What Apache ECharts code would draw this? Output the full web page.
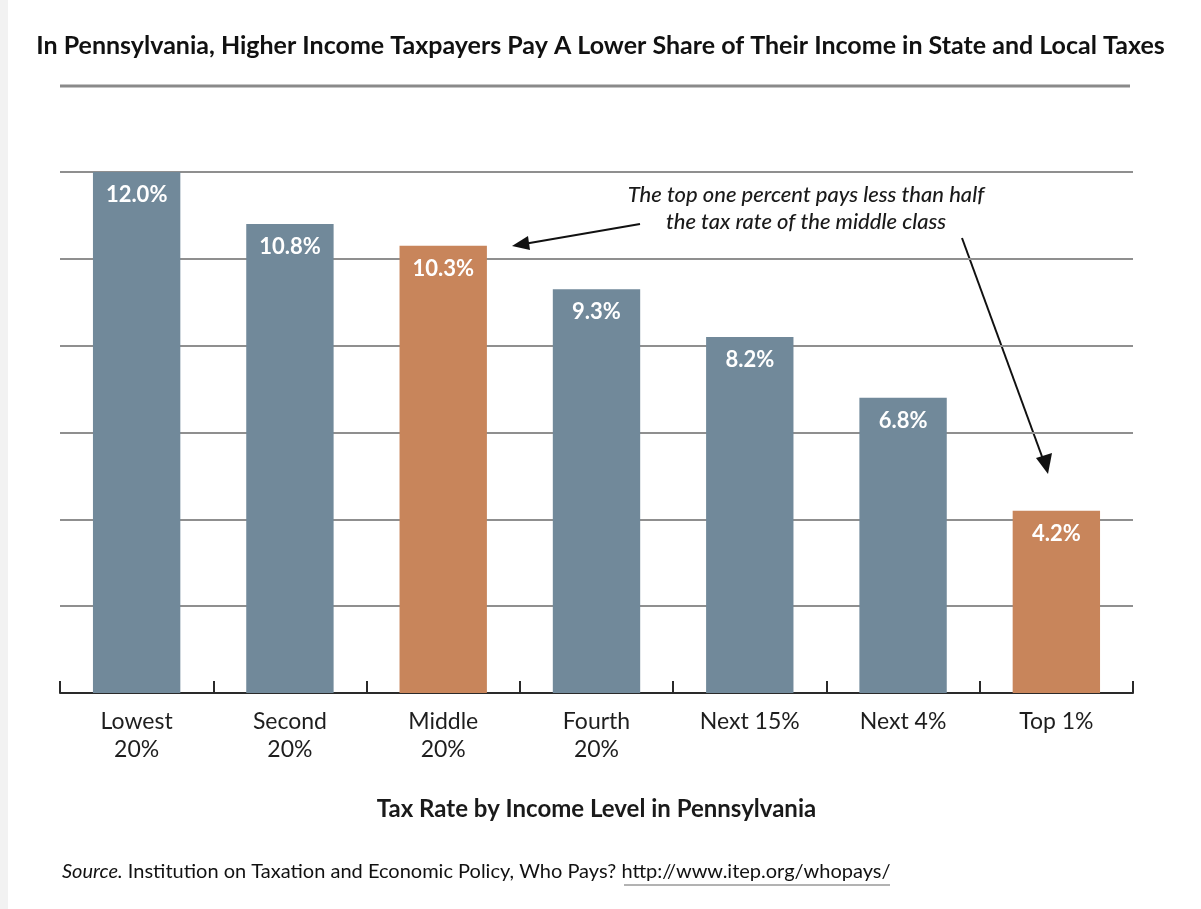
<!DOCTYPE html>
<html>
<head>
<meta charset="utf-8">
<script src="https://cdn.jsdelivr.net/npm/echarts@6/dist/echarts.min.js"></script>
<style>
html,body{margin:0;padding:0;background:#fff;}
#chart{width:1201px;height:909px;}
</style>
</head>
<body>
<div id="chart"></div>
<script>
var categories = ['Lowest\n20%', 'Second\n20%', 'Middle\n20%', 'Fourth\n20%', 'Next 15%', 'Next 4%', 'Top 1%'];
var taxRates = [12.0, 10.8, 10.3, 9.3, 8.2, 6.8, 4.2];
var highlighted = [false, false, true, false, false, false, true];
var yTicks = [0, 2, 4, 6, 8, 10, 12];

var BLUE = '#71899a';
var ORANGE = '#c8855b';
var FONT = 'Lato';

var chart = echarts.init(document.getElementById('chart'));

var barData = taxRates.map(function (v, i) {
  return { value: v, itemStyle: { color: highlighted[i] ? ORANGE : BLUE } };
});

var option = {
  backgroundColor: '#ffffff',
  animation: false,
  textStyle: { fontFamily: FONT },
  grid: { left: 60, right: 68, top: 172, bottom: 216 },
  xAxis: {
    type: 'category',
    data: categories,
    axisLine: { show: true, lineStyle: { color: '#2a2a2a', width: 2 } },
    axisTick: { show: true, inside: true, length: 12, lineStyle: { color: '#2a2a2a', width: 2 } },
    axisLabel: { color: '#1e1e1e', fontSize: 23, fontFamily: FONT, margin: 15, lineHeight: 28 },
    name: 'Tax Rate by Income Level in Pennsylvania',
    nameLocation: 'middle',
    nameGap: 104,
    nameTextStyle: { color: '#1a1a1a', fontSize: 24, fontWeight: 'bold', fontFamily: FONT }
  },
  yAxis: {
    type: 'value',
    min: yTicks[0],
    max: yTicks[yTicks.length - 1],
    interval: yTicks[1] - yTicks[0],
    axisLine: { show: false },
    axisTick: { show: false },
    axisLabel: { show: false },
    splitLine: { show: true, lineStyle: { color: '#8f8f8f', width: 2 } }
  },
  series: [{
    type: 'bar',
    data: barData,
    barWidth: '57%',
    label: {
      show: true,
      position: 'insideTop',
      distance: 12,
      color: '#ffffff',
      fontSize: 22,
      fontWeight: 'bold',
      fontFamily: FONT,
      formatter: function (p) { return p.value.toFixed(1) + '%'; }
    }
  }],
  graphic: [
    { type: 'rect', left: 0, top: 0, shape: { width: 8, height: 909 }, style: { fill: '#f2f2f2' }, silent: true },
    {
      type: 'text', left: 'center', top: 33,
      style: { text: 'In Pennsylvania, Higher Income Taxpayers Pay A Lower Share of Their Income in State and Local Taxes',
        fill: '#111', font: 'bold 25px ' + FONT }
    },
    { type: 'line', shape: { x1: 60, y1: 86, x2: 1130, y2: 86 }, style: { stroke: '#8a8a8a', lineWidth: 3 } },
    {
      type: 'text', x: 806, y: 181,
      style: { text: 'The top one percent pays less than half\nthe tax rate of the middle class',
        fill: '#1a1a1a', font: 'italic 500 22px ' + FONT, align: 'center', lineHeight: 27 }
    },
    { type: 'line', shape: { x1: 640, y1: 224, x2: 518, y2: 245 }, style: { stroke: '#111', lineWidth: 2 } },
    { type: 'polygon', shape: { points: [[512, 246], [528, 236], [530, 250]] }, style: { fill: '#111' } },
    { type: 'line', shape: { x1: 962, y1: 238, x2: 1044, y2: 462 }, style: { stroke: '#111', lineWidth: 2 } },
    { type: 'polygon', shape: { points: [[1048, 474], [1036, 458], [1052, 453]] }, style: { fill: '#111' } },
    {
      type: 'text', x: 62, y: 862,
      style: {
        text: '{i|Source.} Institution on Taxation and Economic Policy, Who Pays? http://www.itep.org/whopays/',
        fill: '#111', font: '20px ' + FONT,
        rich: { i: { fontStyle: 'italic', fontSize: 20, fontFamily: FONT, fill: '#111' } }
      }
    },
    { type: 'line', shape: { x1: 624, y1: 885, x2: 890, y2: 885 }, style: { stroke: '#666', lineWidth: 1 } }
  ]
};

chart.setOption(option);
</script>
</body>
</html>
